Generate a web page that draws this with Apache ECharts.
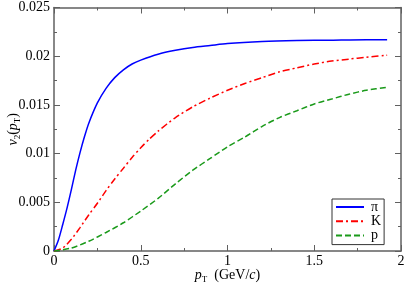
<!DOCTYPE html>
<html><head><meta charset="utf-8">
<script src="https://cdn.jsdelivr.net/npm/echarts@6/dist/echarts.min.js"></script>
<style>html,body{margin:0;padding:0;background:#fff}#c{width:407px;height:285px}</style>
</head><body><div id="c"></div>
<script>
const xTicks = [0, 0.5, 1, 1.5, 2];
const yTicks = [0, 0.005, 0.01, 0.015, 0.02, 0.025];
const seriesNames = ['π', 'K', 'p'];

const pionX = [0, 0.025, 0.05, 0.075, 0.1, 0.125, 0.15, 0.175, 0.2, 0.25, 0.3, 0.35, 0.4, 0.45, 0.5, 0.6, 0.7, 0.8, 0.9, 1.0, 1.2, 1.4, 1.6, 1.8, 1.92];
const pionY = [0, 0.0011, 0.0027, 0.0044, 0.0063, 0.0083, 0.0101, 0.0117, 0.0131, 0.0152, 0.0167, 0.0178, 0.0186, 0.0192, 0.0196, 0.0202, 0.0206, 0.0209, 0.0211, 0.0213, 0.0215, 0.0216, 0.02165, 0.0217, 0.0217];

const kaonX = [0, 0.05, 0.1, 0.15, 0.2, 0.25, 0.3, 0.35, 0.4, 0.45, 0.5, 0.55, 0.6, 0.7, 0.8, 0.9, 1.0, 1.1, 1.2, 1.3, 1.4, 1.5, 1.6, 1.7, 1.8, 1.92];
const kaonY = [0, 0.0003, 0.0012, 0.0024, 0.0037, 0.0049, 0.0062, 0.0074, 0.0085, 0.0096, 0.0106, 0.0115, 0.0123, 0.0137, 0.0148, 0.0157, 0.0165, 0.0172, 0.0178, 0.0184, 0.0188, 0.0192, 0.0195, 0.0197, 0.0199, 0.0201];

const protonX = [0, 0.1, 0.2, 0.3, 0.4, 0.5, 0.6, 0.7, 0.8, 0.9, 1.0, 1.1, 1.2, 1.3, 1.4, 1.5, 1.6, 1.7, 1.8, 1.92];
const protonY = [0, 0.0003, 0.0010, 0.0019, 0.0029, 0.0041, 0.0054, 0.0069, 0.0083, 0.0095, 0.0107, 0.0117, 0.0128, 0.0137, 0.0144, 0.0151, 0.0156, 0.0161, 0.0165, 0.0168];

function pairs(xs, ys) { return xs.map((x, i) => [x, ys[i]]); }

const FONT = 'Liberation Serif';
const AX = '#606060';
const xmin = xTicks[0], xmax = xTicks[xTicks.length - 1], xint = xTicks[1] - xTicks[0];
const ymin = yTicks[0], ymax = yTicks[yTicks.length - 1], yint = yTicks[1] - yTicks[0];

function axisBase(show) {
  return {
    axisLine: { show: true, onZero: false, lineStyle: { color: AX, width: 1.5 } },
    axisTick: { show: true, inside: true, length: 6, lineStyle: { color: AX, width: 1 } },
    minorTick: { show: true, splitNumber: 2, length: 3, lineStyle: { color: AX, width: 1 } },
    splitLine: { show: false },
    axisLabel: { show: show, fontFamily: FONT, fontSize: 14, color: '#000' }
  };
}

const richName = {
  i: { fontFamily: FONT, fontSize: 14, fontStyle: 'italic', color: '#000', verticalAlign: 'top', lineHeight: 14 },
  s: { fontFamily: FONT, fontSize: 9, color: '#000', verticalAlign: 'top', lineHeight: 9, padding: [7, 0, 0, 0] },
  r: { fontFamily: FONT, fontSize: 14, color: '#000', verticalAlign: 'top', lineHeight: 14 }
};

const chart = echarts.init(document.getElementById('c'), null, { renderer: 'canvas' });
chart.setOption({
  animation: false,
  backgroundColor: '#fff',
  grid: { left: 54, right: 6, top: 7.5, bottom: 34, containLabel: false, outerBoundsMode: 'none' },
  xAxis: [
    Object.assign(axisBase(true), {
      type: 'value', min: xmin, max: xmax, interval: xint, position: 'bottom',
      name: '{i|p}{s|T}{r|  (GeV/}{i|c}{r|)}', nameLocation: 'middle', nameGap: 17, nameMoveOverlap: false,
      nameTextStyle: { fontFamily: FONT, fontSize: 14, color: '#000', rich: richName },
      axisLabel: { show: true, fontFamily: FONT, fontSize: 14, color: '#000', margin: 3,
        formatter: v => String(v) }
    }),
    Object.assign(axisBase(false), {
      type: 'value', min: xmin, max: xmax, interval: xint, position: 'top'
    })
  ],
  yAxis: [
    Object.assign(axisBase(true), {
      type: 'value', min: ymin, max: ymax, interval: yint, position: 'left',
      name: '{i|v}{s|2}{r|(}{i|p}{s|T}{r|)}', nameLocation: 'middle', nameGap: 34, nameRotate: 90, nameMoveOverlap: false,
      nameTextStyle: { fontFamily: FONT, fontSize: 14, color: '#000', rich: richName },
      axisLabel: { show: true, fontFamily: FONT, fontSize: 14, color: '#000', margin: 4,
        formatter: v => String(Math.round(v * 1000) / 1000) }
    }),
    Object.assign(axisBase(false), {
      type: 'value', min: ymin, max: ymax, interval: yint, position: 'right'
    })
  ],
  legend: {
    show: true, orient: 'vertical', left: 332, top: 199,
    padding: [1, 3, 2, 3], itemGap: 0.3, itemWidth: 28, itemHeight: 12,
    borderColor: '#333', borderWidth: 1, backgroundColor: '#fff',
    itemStyle: { opacity: 0 },
    textStyle: { fontFamily: FONT, fontSize: 14, lineHeight: 12, color: '#000', padding: [0, 0, 0, 2] },
    data: seriesNames.slice(),
    selectedMode: false
  },
  series: [
    { name: seriesNames[0], type: 'line', data: pairs(pionX, pionY), smooth: 0.25, symbol: 'none',
      lineStyle: { color: '#0000ff', width: 1.5, type: 'solid' }, itemStyle: { color: '#0000ff' } },
    { name: seriesNames[1], type: 'line', data: pairs(kaonX, kaonY), smooth: 0.25, symbol: 'none',
      lineStyle: { color: '#ff0000', width: 1.5, type: [7, 3, 2, 3] }, itemStyle: { color: '#ff0000' } },
    { name: seriesNames[2], type: 'line', data: pairs(protonX, protonY), smooth: 0.25, symbol: 'none',
      lineStyle: { color: '#1a9a1a', width: 1.5, type: [6, 3] }, itemStyle: { color: '#1a9a1a' } }
  ]
});
</script></body></html>
